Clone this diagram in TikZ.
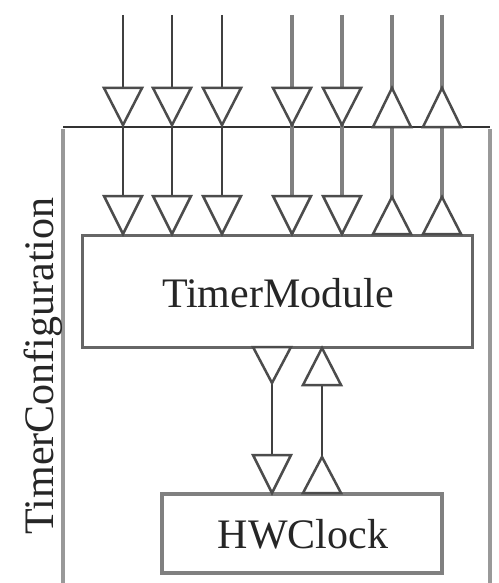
\documentclass[tikz,border=0pt]{standalone}
\usepackage{fontspec}
\setmainfont{Liberation Serif}
\begin{document}
\begin{tikzpicture}[x=1pt,y=-1pt,
  boxlbl/.style={font=\fontsize{42}{42}\selectfont, text=black!85},
  wiredark/.style={draw=black!75, line width=2.6pt},
  wiremid/.style={draw=black!50, line width=3.2pt},
  wirelite/.style={draw=black!50, line width=3.4pt},
  tri/.style={draw=black!70, fill=white, line width=2.5pt, line join=miter},
  modbox/.style={draw=black!60, line width=3pt, fill=white, inner sep=0pt}
]
\useasboundingbox (0,0) rectangle (498,583);
\fill[white] (0,0) rectangle (498,583);

% outer configuration frame (open at the bottom)
\coordinate (cfgBL) at (63,583);
\coordinate (cfgTL) at (63,127);
\coordinate (cfgTR) at (490,127);
\coordinate (cfgBR) at (490,583);
\draw[draw=black!40, line width=3.4pt] (cfgBL) -- (63,129);
\draw[draw=black!40, line width=3.4pt] (cfgBR) -- (490,129);
\draw[draw=black!80, line width=2.6pt] (cfgTL) -- (cfgTR);
\node[boxlbl, rotate=90, anchor=base, inner sep=0pt] (cfglbl) at (53,366) {TimerConfiguration};

% modules
\node[modbox, minimum width=390pt, minimum height=112pt] (tm) at (277,291) {};
\node[boxlbl] (tmlbl) at (278,293) {TimerModule};
\node[modbox, draw=black!50, line width=3.4pt, minimum width=280pt, minimum height=79pt] (hw) at (302,533.5) {};
\node[boxlbl] (hwlbl) at (303,534) {HWClock};

% top wires
\foreach \x/\st [count=\i] in {123/wiredark,172/wiredark,222/wiredark,292/wiremid,342/wiremid,392/wirelite,442/wirelite}{
  \coordinate (top\i) at (\x,15);
  \coordinate (port\i) at (\x,127);
  \coordinate (in\i) at (\x,235);
  \draw[\st] (top\i) -- (in\i);
}
% down-pointing triangles
\foreach \x in {123,172,222,292,342}{
  \draw[tri] (\x-19,88) -- (\x+19,88) -- (\x,125) -- cycle;
  \draw[tri] (\x-19,196) -- (\x+19,196) -- (\x,234) -- cycle;
}
% up-pointing triangles
\foreach \x in {392,442}{
  \draw[tri] (\x-19,127) -- (\x+19,127) -- (\x,88) -- cycle;
  \draw[tri] (\x-19,234) -- (\x+19,234) -- (\x,197) -- cycle;
}

% links between TimerModule and HWClock
\coordinate (dA) at (272,347);
\coordinate (dB) at (272,494);
\coordinate (uA) at (322,347);
\coordinate (uB) at (322,494);
\draw[wiredark] (dA) -- (dB);
\draw[wiredark] (uA) -- (uB);
\draw[tri] (253,347) -- (291,347) -- (272,383) -- cycle;
\draw[tri] (253,455) -- (291,455) -- (272,493) -- cycle;
\draw[tri] (303,385) -- (341,385) -- (322,348) -- cycle;
\draw[tri] (303,493) -- (341,493) -- (322,457) -- cycle;
\end{tikzpicture}
\end{document}
